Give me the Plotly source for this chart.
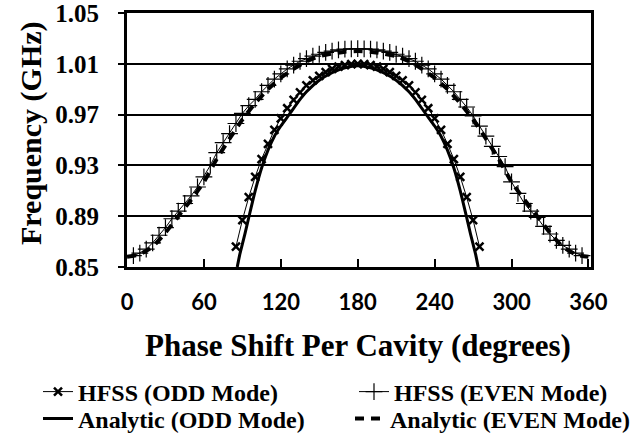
import plotly.graph_objects as go

# ---------------- data ----------------
odd_hfss_phase = [85, 90, 95, 100, 105, 110, 115, 120, 125, 130, 135, 140, 145, 150, 155, 160, 165, 170, 175, 180,
                  185, 190, 195, 200, 205, 210, 215, 220, 225, 230, 235, 240, 245, 250, 255, 260, 265, 270, 275]
odd_hfss_freq = [0.866, 0.887, 0.905, 0.921, 0.935, 0.947, 0.958, 0.967, 0.975, 0.9815, 0.9875, 0.993, 0.997, 1.0005,
                 1.0035, 1.006, 1.0078, 1.009, 1.0097, 1.010,
                 1.0097, 1.009, 1.0078, 1.006, 1.0035, 1.0005, 0.997, 0.993, 0.9875, 0.9815, 0.975, 0.967, 0.958,
                 0.947, 0.935, 0.921, 0.905, 0.887, 0.866]

even_hfss_phase = [5, 10, 15, 20, 25, 30, 35, 40, 45, 50, 55, 60, 65, 70, 75, 80, 85, 90, 95, 100, 105, 110, 115, 120,
                   125, 130, 135, 140, 145, 150, 155, 160, 165, 170, 175, 180, 185, 190, 195, 200, 205, 210, 215, 220,
                   225, 230, 235, 240, 245, 250, 255, 260, 265, 270, 275, 280, 285, 290, 295, 300, 305, 310, 315, 320,
                   325, 330, 335, 340, 345, 350, 355]
even_hfss_freq = [0.859, 0.861, 0.864, 0.869, 0.875, 0.881, 0.888, 0.894, 0.900, 0.906, 0.913, 0.921, 0.930, 0.940,
                  0.948, 0.955, 0.963, 0.971, 0.977, 0.982, 0.988, 0.993, 0.998, 1.002, 1.006, 1.009, 1.012, 1.014,
                  1.016, 1.0175, 1.019, 1.020, 1.021, 1.0215, 1.0218, 1.022, 1.0218, 1.0215, 1.021, 1.020, 1.019,
                  1.0175, 1.016, 1.014, 1.012, 1.009, 1.006, 1.002, 0.998, 0.993, 0.988, 0.982, 0.976, 0.969, 0.961,
                  0.953, 0.945, 0.937, 0.929, 0.917, 0.908, 0.900, 0.894, 0.889, 0.882, 0.876, 0.871, 0.867, 0.864,
                  0.861, 0.859]

odd_analytic_phase = [86, 88, 90, 92, 95, 100, 105, 110, 115, 120, 126.5, 135, 140, 150, 160, 170, 180,
                      190, 200, 210, 220, 225, 233.5, 240, 245, 250, 255, 260, 265, 268, 270, 272, 274]
odd_analytic_freq = [0.850, 0.860, 0.868, 0.876, 0.889, 0.910, 0.928, 0.942, 0.953, 0.961, 0.970, 0.982, 0.988, 0.997,
                     1.003, 1.0068, 1.0085,
                     1.0068, 1.003, 0.997, 0.988, 0.982, 0.970, 0.961, 0.953, 0.942, 0.928, 0.910, 0.889, 0.876,
                     0.868, 0.860, 0.850]

even_analytic_phase = [0, 10, 20, 30, 40, 50, 60, 70, 80, 90, 100, 110, 120, 130, 140, 150, 160, 170, 180,
                       190, 200, 210, 220, 230, 240, 250, 260, 270, 280, 290, 300, 310, 320, 330, 340, 350, 360]
even_analytic_freq = [0.858, 0.860, 0.866, 0.877, 0.890, 0.903, 0.917, 0.935, 0.951, 0.966, 0.979, 0.990, 0.999,
                      1.006, 1.012, 1.016, 1.018, 1.0195, 1.020,
                      1.0195, 1.018, 1.016, 1.012, 1.006, 0.999, 0.990, 0.979, 0.966, 0.951, 0.935, 0.917, 0.903,
                      0.890, 0.877, 0.866, 0.860, 0.858]

x_ticks = [0, 60, 120, 180, 240, 300, 360]
y_ticks = [0.85, 0.89, 0.93, 0.97, 1.01, 1.05]

# ---------------- figure ----------------
W, H = 643, 444
ML, MR, MT, MB = 127, 52, 13, 177
serif = "Times New Roman, Liberation Serif, serif"
fig = go.Figure()

fig.add_trace(go.Scatter(
    x=odd_analytic_phase, y=odd_analytic_freq, name="Analytic (ODD Mode)", mode="lines",
    line=dict(color="black", width=3, shape="spline", smoothing=0.6), legend="legend3"))
fig.add_trace(go.Scatter(
    x=even_analytic_phase, y=even_analytic_freq, name="Analytic (EVEN Mode)", mode="lines",
    line=dict(color="black", width=4, dash="9px,7px", shape="spline", smoothing=0.6), legend="legend4"))
fig.add_trace(go.Scatter(
    x=odd_hfss_phase, y=odd_hfss_freq, name="HFSS (ODD Mode)", mode="lines+markers",
    line=dict(color="black", width=1),
    marker=dict(symbol="x-thin-open", size=8, color="black", line=dict(width=2.5, color="black")),
    legend="legend"))
fig.add_trace(go.Scatter(
    x=even_hfss_phase, y=even_hfss_freq, name="HFSS (EVEN Mode)", mode="lines+markers",
    line=dict(color="black", width=1),
    marker=dict(symbol="cross-thin-open", size=12, color="black", line=dict(width=1.2, color="black")),
    legend="legend2"))

def leg(xpx, ypx):
    return dict(
        x=xpx / W, y=1 - ypx / H, xref="container", yref="container", xanchor="left", yanchor="middle",
        orientation="h", bgcolor="rgba(0,0,0,0)", itemwidth=30,
        font=dict(family=serif, size=24, color="black", weight="bold"),
    )

fig.update_layout(
    width=W, height=H,
    margin=dict(l=ML, r=MR, t=MT, b=MB, autoexpand=False),
    plot_bgcolor="white", paper_bgcolor="white",
    showlegend=True,
    legend=leg(38, 392),
    legend2=leg(354, 392),
    legend3=leg(38, 419),
    legend4=leg(350, 419),
    xaxis=dict(
        range=[0, 362], tickvals=x_ticks, ticktext=[str(v) for v in x_ticks],
        ticks="inside", ticklen=8, tickwidth=2, tickcolor="black",
        showline=True, linewidth=3, linecolor="black", mirror=True, automargin=False,
        showgrid=False, zeroline=False, ticklabelstandoff=14, ticklabeloverflow="allow",
        tickfont=dict(family="Lato", size=22, color="black", weight="bold"),
    ),
    yaxis=dict(
        range=[0.85, 1.05], tickvals=y_ticks, ticktext=[f"{v:.2f}" for v in y_ticks],
        ticks="outside", ticklen=6, tickwidth=2, tickcolor="black",
        showline=True, linewidth=3, linecolor="black", mirror=True, automargin=False,
        showgrid=True, gridcolor="black", gridwidth=2, zeroline=False, ticklabelstandoff=14,
        ticklabeloverflow="allow",
        tickfont=dict(family=serif, size=25, color="black", weight="bold"),
    ),
)
PW, PH = W - ML - MR, H - MT - MB
fig.add_annotation(text="Frequency (GHz)", xref="x domain", yref="y domain",
                   x=(31 - ML) / PW, y=(H - MB - 133) / PH,
                   xanchor="center", yanchor="middle", textangle=-90, showarrow=False,
                   font=dict(family=serif, size=30, color="black", weight="bold"))
fig.add_annotation(text="Phase Shift Per Cavity (degrees)", xref="x domain", yref="y domain",
                   x=(358 - ML) / PW, y=(H - MB - 345) / PH,
                   xanchor="center", yanchor="middle", showarrow=False,
                   font=dict(family=serif, size=31, color="black", weight="bold"))

fig.write_html("out.html", config={"displayModeBar": False},
               post_script="document.body.style.margin='0';")
